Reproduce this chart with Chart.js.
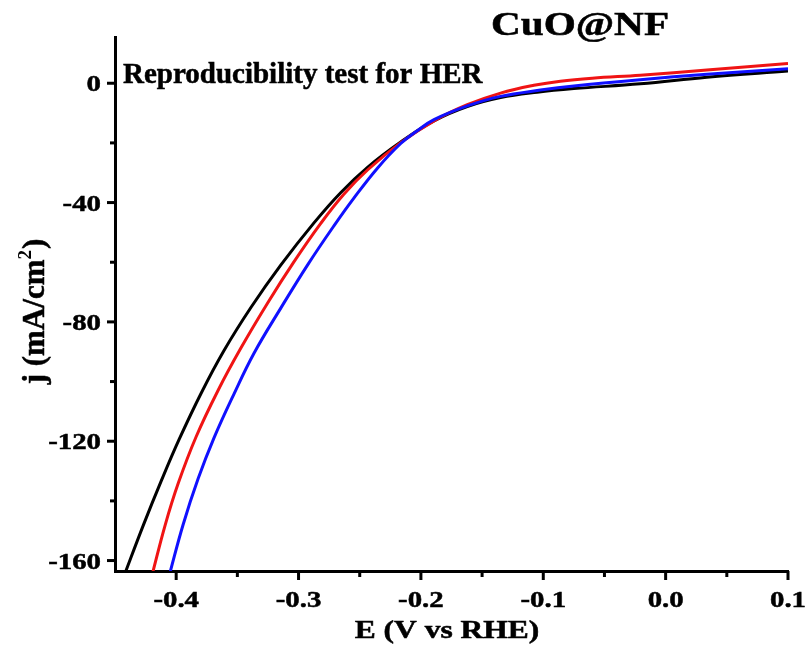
<!DOCTYPE html>
<html>
<head>
<meta charset="utf-8">
<script src="https://cdn.jsdelivr.net/npm/chart.js@4.4.0/dist/chart.umd.min.js"></script>
<style>
  html, body { margin: 0; padding: 0; background: #fff; }
  #wrap { width: 808px; height: 650px; }
</style>
</head>
<body>
<div id="wrap"><canvas id="her-chart" width="808" height="650"></canvas></div>
<script>
// LSV sweeps, potential (V vs RHE) and current density (mA/cm2)
const run1E = [-0.4425, -0.4269, -0.4122, -0.3976, -0.3796, -0.3609, -0.3388, -0.3144, -0.2874, -0.2654, -0.2434, -0.2165, -0.1893, -0.1621, -0.1349, -0.1050, -0.0750, -0.0207, 0.0337, 0.1000];
const run1J = [-165, -148.2, -133.3, -119.4, -103.9, -89.6, -75.1, -60.9, -46.8, -36.6, -28.1, -19.7, -12.6, -7.8, -4.8, -3.0, -1.8, -0.2, 2.0, 4.1];

const run2E = [-0.4198, -0.4090, -0.3984, -0.3837, -0.3657, -0.3470, -0.3250, -0.3038, -0.2817, -0.2630, -0.2434, -0.2165, -0.1893, -0.1621, -0.1349, -0.1077, -0.0860, -0.0600, -0.0207, 0.0337, 0.1000];
const run2J = [-165, -148.1, -134.2, -118.5, -102.9, -88.7, -73.5, -59.9, -46.9, -37.2, -29.0, -19.9, -12.6, -7.2, -3.3, -0.7, 0.7, 1.7, 2.7, 4.4, 6.6];

const run3E = [-0.4057, -0.3943, -0.3821, -0.3690, -0.3527, -0.3364, -0.3144, -0.2923, -0.2711, -0.2548, -0.2352, -0.2165, -0.2030, -0.1893, -0.1621, -0.1349, -0.1023, -0.0750, -0.0207, 0.0337, 0.1000];
const run3J = [-165, -147.9, -132.6, -118.8, -104.1, -90.5, -75.3, -60.7, -47.8, -38.5, -28.3, -20.2, -15.9, -12.2, -7.6, -4.4, -2.3, -0.9, 1.2, 3.0, 4.9];

const xMin = -0.45, xMax = 0.1, xStep = 0.05;
const yMin = -163.5, yMax = 15.5, yStep = 20;

const chartTitle = 'CuO@NF';
const subTitle = 'Reproducibility test for HER';
const xTitle = 'E (V vs RHE)';

const SERIF = '"Liberation Serif", "Times New Roman", serif';

function toPoints(es, js) {
    return es.map((e, i) => ({ x: e, y: js[i] }));
}

function isMajorX(v) { return Math.abs(Math.round(v * 100)) % 10 === 0; }
function isMajorY(v) { return Math.round(v) % 40 === 0; }

// bold serif text, sx widens the glyphs
function drawText(ctx, text, x, y, size, align, sx) {
    ctx.save();
    ctx.font = 'bold ' + size + 'px ' + SERIF;
    ctx.textAlign = align;
    ctx.textBaseline = 'alphabetic';
    ctx.translate(x, y);
    ctx.scale(sx, 1);
    ctx.lineWidth = 0.5;
    ctx.fillText(text, 0, 0);
    ctx.strokeText(text, 0, 0);
    ctx.restore();
}

// tick marks, tick labels and all text
const axisDecor = {
    id: 'axisDecor',
    afterDraw(chart) {
        const ctx = chart.ctx;
        const xs = chart.scales.x;
        const ys = chart.scales.y;
        const area = chart.chartArea;
        ctx.save();
        ctx.strokeStyle = '#000';
        ctx.fillStyle = '#000';
        ctx.lineWidth = 3;

        xs.ticks.forEach(t => {
            if (t.value <= xMin + 1e-9) return;
            const px = xs.getPixelForValue(t.value);
            const major = isMajorX(t.value);
            ctx.beginPath();
            ctx.moveTo(px, area.bottom);
            ctx.lineTo(px, area.bottom + (major ? 9 : 6));
            ctx.stroke();
            if (major) {
                const label = (Math.abs(t.value) < 1e-9 ? 0 : t.value).toFixed(1);
                drawText(ctx, label, px, area.bottom + 36, 24, 'center', 1.2);
            }
        });

        ys.ticks.forEach(t => {
            if (Math.round(t.value) % 20 !== 0) return;
            const py = ys.getPixelForValue(t.value);
            const major = isMajorY(t.value);
            ctx.beginPath();
            ctx.moveTo(area.left, py);
            ctx.lineTo(area.left - (major ? 8 : 5), py);
            ctx.stroke();
            if (major) {
                drawText(ctx, String(Math.round(t.value)), area.left - 14, py + 8, 24, 'right', 1.2);
            }
        });

        drawText(ctx, chartTitle, 580, 35, 33, 'center', 1.25);
        drawText(ctx, subTitle, 123, 83, 29, 'left', 1.0);
        drawText(ctx, xTitle, 447, 638, 25, 'center', 1.26);

        // y title, rotated, with superscript 2
        ctx.save();
        ctx.translate(44, (area.top + area.bottom) / 2 + 8);
        ctx.rotate(-Math.PI / 2);
        ctx.textBaseline = 'alphabetic';
        ctx.textAlign = 'left';
        ctx.lineWidth = 0.5;
        const main = 'j (mA/cm';
        const sup = '2';
        const tail = ')';
        ctx.font = 'bold 31px ' + SERIF;
        const wMain = ctx.measureText(main).width;
        const wTail = ctx.measureText(tail).width;
        ctx.font = 'bold 19px ' + SERIF;
        const wSup = ctx.measureText(sup).width;
        const x0 = -(wMain + wSup + wTail) / 2;
        ctx.font = 'bold 31px ' + SERIF;
        ctx.fillText(main, x0, 0);
        ctx.strokeText(main, x0, 0);
        ctx.fillText(tail, x0 + wMain + wSup + 1, 0);
        ctx.strokeText(tail, x0 + wMain + wSup + 1, 0);
        ctx.font = 'bold 19px ' + SERIF;
        ctx.fillText(sup, x0 + wMain, -13);
        ctx.restore();

        ctx.restore();
    }
};

const ctx = document.getElementById('her-chart').getContext('2d');

new Chart(ctx, {
    type: 'scatter',
    data: {
        datasets: [
            {
                label: 'run 3',
                data: toPoints(run3E, run3J),
                borderColor: '#1010ff',
                order: 0
            },
            {
                label: 'run 2',
                data: toPoints(run2E, run2J),
                borderColor: '#f01414',
                order: 1
            },
            {
                label: 'run 1',
                data: toPoints(run1E, run1J),
                borderColor: '#000000',
                order: 2
            }
        ]
    },
    options: {
        responsive: false,
        animation: false,
        showLine: true,
        layout: {
            padding: { top: 37, right: 20, left: 0, bottom: 0 }
        },
        elements: {
            point: { radius: 0 },
            line: { borderWidth: 3, tension: 0.4, fill: false }
        },
        plugins: {
            legend: { display: false },
            tooltip: { enabled: false }
        },
        scales: {
            x: {
                type: 'linear',
                min: xMin,
                max: xMax,
                grid: { display: false, drawTicks: false },
                border: { display: true, color: '#000', width: 3 },
                ticks: { display: false, stepSize: xStep, includeBounds: false },
                afterFit(scale) { scale.height = 79; }
            },
            y: {
                type: 'linear',
                min: yMin,
                max: yMax,
                grid: { display: false, drawTicks: false },
                border: { display: true, color: '#000', width: 3 },
                ticks: { display: false, stepSize: yStep, includeBounds: false },
                afterFit(scale) { scale.width = 115; }
            }
        }
    },
    plugins: [axisDecor]
});
</script>
</body>
</html>
